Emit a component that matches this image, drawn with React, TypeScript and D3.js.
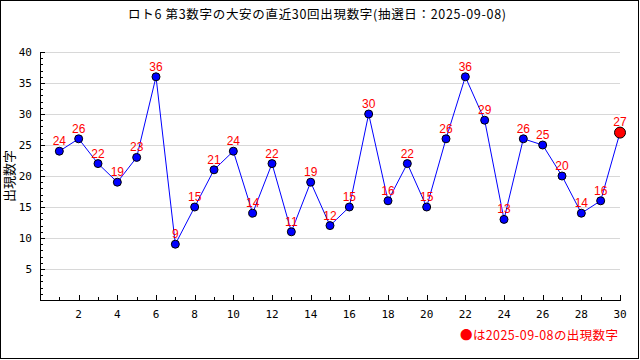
import React, { useEffect, useRef } from "react";
import * as d3 from "d3";

const titleText = "ロト6 第3数字の大安の直近30回出現数字(抽選日：2025-09-08)";
const yLabel = "出現数字";
const legendText = "●は2025-09-08の出現数字";
const rounds = d3.range(1, 31);
const numbers = [24, 26, 22, 19, 23, 36, 9, 15, 21, 24, 14, 22, 11, 19, 12, 15, 30, 16, 22, 15, 26, 36, 29, 13, 26, 25, 20, 14, 16, 27];
const yTicks = [5, 10, 15, 20, 25, 30, 35, 40];
const xTicks = [2, 4, 6, 8, 10, 12, 14, 16, 18, 20, 22, 24, 26, 28, 30];

const W = 640, H = 360;
const margin = { top: 52, right: 20, bottom: 60, left: 40 };

export default function App() {
  const ref = useRef<SVGSVGElement>(null);

  useEffect(() => {
    const svg = d3.select(ref.current);
    svg.selectAll("*").remove();

    const x = d3.scaleLinear().domain([0, 30]).range([margin.left, W - margin.right]);
    const y = d3.scaleLinear().domain([0, 40]).range([H - margin.bottom, margin.top]);
    const mono = "'DejaVu Sans Mono', monospace";
    const jp = "'Noto Sans CJK JP', sans-serif";

    svg.append("rect")
      .attr("x", 0.5).attr("y", 0.5)
      .attr("width", W - 2).attr("height", H - 2)
      .attr("fill", "#fff").attr("stroke", "#000");

    // title
    svg.append("text")
      .attr("x", 128).attr("y", 19)
      .attr("textLength", 378)
      .attr("lengthAdjust", "spacing")
      .attr("font-family", jp)
      .attr("font-size", 12.5)
      .text(titleText);

    // grid
    svg.append("g").selectAll("line")
      .data(yTicks)
      .join("line")
      .attr("x1", x(0)).attr("x2", x(30))
      .attr("y1", d => y(d) + 0.5).attr("y2", d => y(d) + 0.5)
      .attr("stroke", "#d8d8d8");

    // axes lines
    svg.append("line")
      .attr("x1", x(0) + 0.5).attr("x2", x(0) + 0.5)
      .attr("y1", y(40)).attr("y2", y(0))
      .attr("stroke", "#000");
    svg.append("line")
      .attr("x1", x(0)).attr("x2", x(30) + 1)
      .attr("y1", y(0) + 0.5).attr("y2", y(0) + 0.5)
      .attr("stroke", "#000");

    // y ticks
    svg.append("g").selectAll("line")
      .data(d3.range(1, 41))
      .join("line")
      .attr("x1", x(0)).attr("x2", d => x(0) + (d % 5 === 0 ? 5 : 3))
      .attr("y1", d => Math.round(y(d)) + 0.5).attr("y2", d => Math.round(y(d)) + 0.5)
      .attr("stroke", "#000");
    svg.append("g").selectAll("text")
      .data(yTicks)
      .join("text")
      .attr("x", 32).attr("y", d => y(d) + 4)
      .attr("text-anchor", "end")
      .attr("font-family", mono).attr("font-size", 11)
      .text(d => d);

    // x ticks
    svg.append("g").selectAll("line")
      .data(d3.range(1, 31))
      .join("line")
      .attr("x1", d => Math.round(x(d)) + 0.5).attr("x2", d => Math.round(x(d)) + 0.5)
      .attr("y1", y(0)).attr("y2", d => y(0) - (d % 2 === 0 ? 5 : 3))
      .attr("stroke", "#000");
    svg.append("g").selectAll("text")
      .data(xTicks)
      .join("text")
      .attr("x", d => x(d)).attr("y", y(0) + 18)
      .attr("text-anchor", "middle")
      .attr("font-family", mono).attr("font-size", 11)
      .text(d => d);

    // y label
    svg.append("text")
      .attr("transform", `translate(14,${y(20)}) rotate(-90)`)
      .attr("text-anchor", "middle")
      .attr("font-family", jp)
      .attr("font-size", 13)
      .text(yLabel);

    // line
    const line = d3.line<number>()
      .x((d, i) => x(rounds[i]))
      .y(d => y(d));
    svg.append("path")
      .datum(numbers)
      .attr("fill", "none")
      .attr("stroke", "#0000ff")
      .attr("stroke-width", 1)
      .attr("d", line);

    // points
    const last = numbers.length - 1;
    svg.append("g").selectAll("circle")
      .data(numbers)
      .join("circle")
      .attr("cx", (d, i) => x(rounds[i]))
      .attr("cy", d => y(d))
      .attr("r", (d, i) => (i === last ? 5.5 : 4))
      .attr("fill", (d, i) => (i === last ? "#ff0000" : "#0000ff"))
      .attr("stroke", "#000")
      .attr("stroke-width", 1);

    // value labels
    svg.append("g").selectAll("text")
      .data(numbers)
      .join("text")
      .attr("x", (d, i) => x(rounds[i]))
      .attr("y", (d, i) => y(d) - (i === last ? 7 : 6))
      .attr("text-anchor", "middle")
      .attr("font-family", "'Liberation Sans', Arial, sans-serif")
      .attr("font-size", 12)
      .attr("fill", "#ff0000")
      .text(d => d);

    // legend
    svg.append("text")
      .attr("x", 460).attr("y", 340)
      .attr("textLength", 158)
      .attr("lengthAdjust", "spacing")
      .attr("font-family", jp)
      .attr("font-size", 12.5)
      .attr("fill", "#ff0000")
      .text(legendText);
  }, []);

  return (
    <svg ref={ref} width={W} height={H} style={{ position: "absolute", left: 0, top: 0 }} />
  );
}
